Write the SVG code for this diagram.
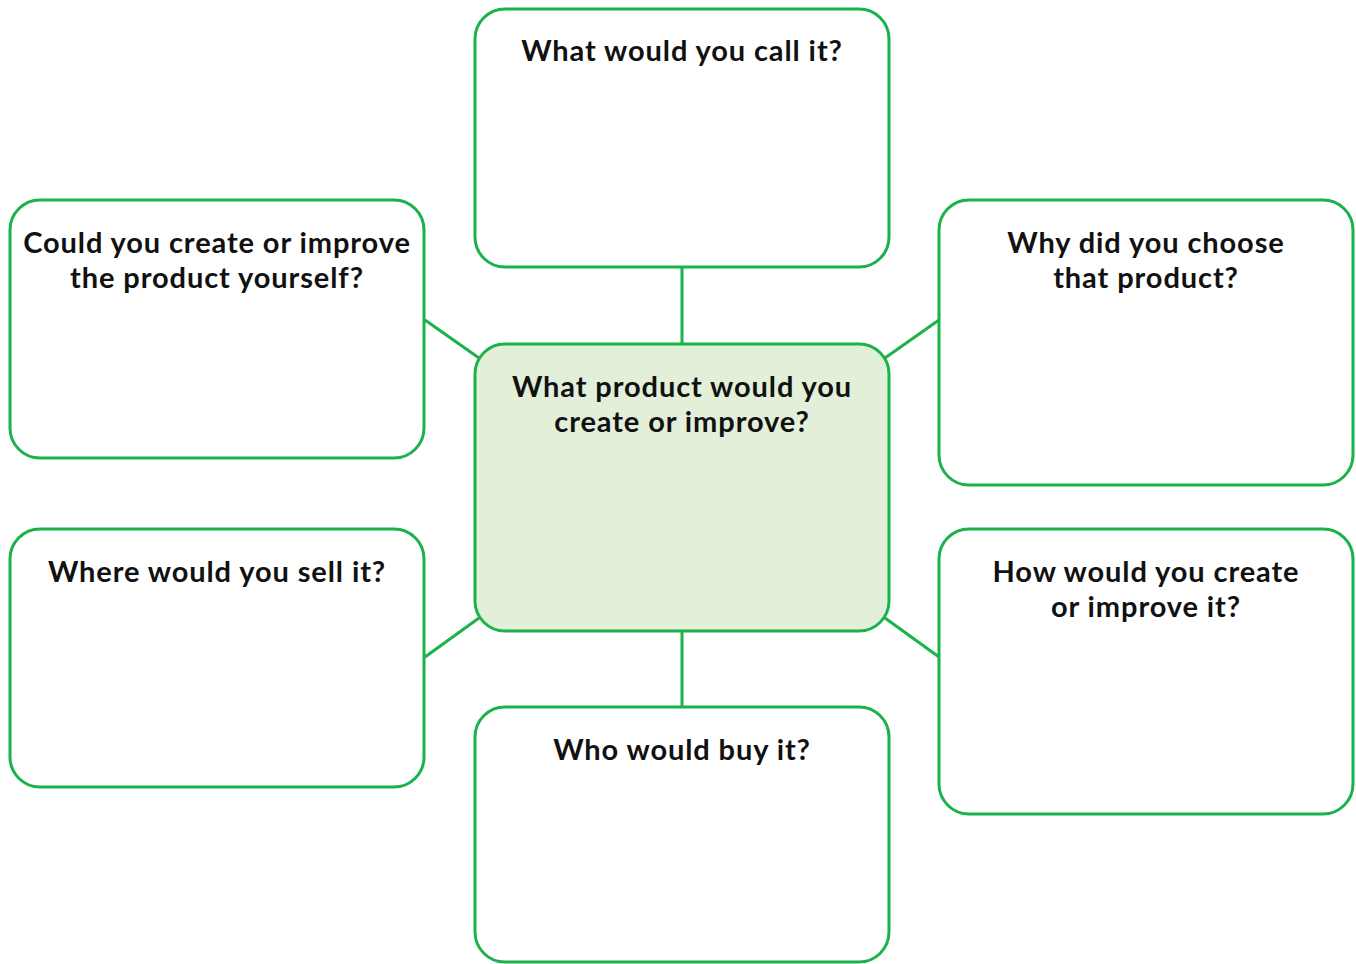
<svg xmlns="http://www.w3.org/2000/svg" width="1356" height="964" viewBox="0 0 1356 964">
<style>
.box{fill:#ffffff;stroke:#1bb24b;stroke-width:3}
.center{fill:#e2efd9;stroke:#1bb24b;stroke-width:3}
.con{stroke:#1bb24b;stroke-width:3;fill:none}
text{font-family:Lato,"Liberation Sans",sans-serif;font-weight:bold;font-size:29px;letter-spacing:0.9px;fill:#111111;text-anchor:middle}
</style>
<rect width="1356" height="964" fill="#ffffff"/>
<g id="connectors">
<line class="con" x1="682" y1="268" x2="682" y2="344"/>
<line class="con" x1="682" y1="631" x2="682" y2="707"/>
<line class="con" x1="425" y1="320" x2="479" y2="358"/>
<line class="con" x1="939" y1="320" x2="885" y2="358"/>
<line class="con" x1="425" y1="657" x2="479" y2="618"/>
<line class="con" x1="939" y1="657" x2="885" y2="618"/>
</g>
<g id="center">
<rect class="center" x="475" y="344" width="414" height="287" rx="30"/>
<text x="682" y="397">What product would you</text>
<text x="682" y="432">create or improve?</text>
</g>
<g id="top">
<rect class="box" x="475" y="9" width="414" height="258" rx="30"/>
<text x="682" y="61">What would you call it?</text>
</g>
<g id="left-top">
<rect class="box" x="10" y="200" width="414" height="258" rx="30"/>
<text x="217" y="253">Could you create or improve</text>
<text x="217" y="288">the product yourself?</text>
</g>
<g id="right-top">
<rect class="box" x="939" y="200" width="414" height="285" rx="30"/>
<text x="1146" y="253">Why did you choose</text>
<text x="1146" y="288">that product?</text>
</g>
<g id="left-bottom">
<rect class="box" x="10" y="529" width="414" height="258" rx="30"/>
<text x="217" y="582">Where would you sell it?</text>
</g>
<g id="right-bottom">
<rect class="box" x="939" y="529" width="414" height="285" rx="30"/>
<text x="1146" y="582">How would you create</text>
<text x="1146" y="617">or improve it?</text>
</g>
<g id="bottom">
<rect class="box" x="475" y="707" width="414" height="255" rx="30"/>
<text x="682" y="760">Who would buy it?</text>
</g>
</svg>
